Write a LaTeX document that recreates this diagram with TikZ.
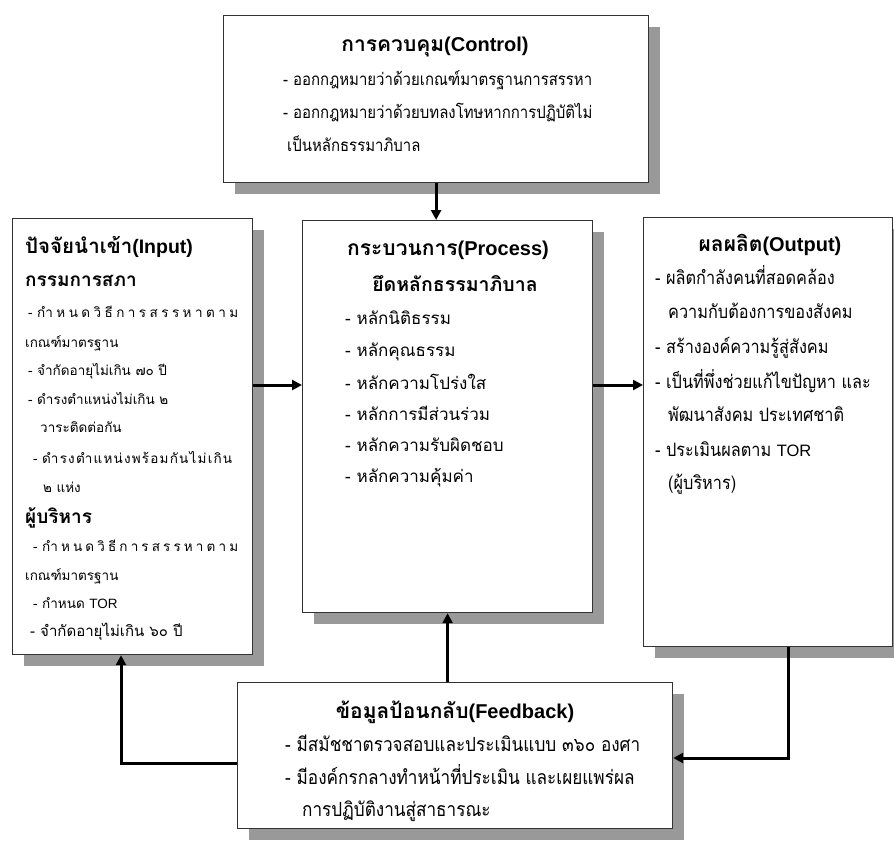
\documentclass[tikz,border=0pt]{standalone}
\usepackage{fontspec}
\setmainfont{Loma}[Script=Thai]
\newfontfamily\thn{Loma}[Script=Thai, FakeStretch=0.88]
\newfontfamily\lat{Liberation Sans}
\newcommand{\distline}[2]{\hbox to #1{#2}}
\usetikzlibrary{arrows.meta,shadows}
\begin{document}
\begin{tikzpicture}[x=1pt,y=-1pt,
  box/.style={draw=black!80, line width=1.2pt, fill=white, rectangle, anchor=north west, inner sep=0pt,
    drop shadow={shadow xshift=11pt, shadow yshift=-11pt, fill=black!40, opacity=1}},
  arr/.style={line width=3pt, -{Triangle[length=10pt,width=10pt]}},
  txt/.style={inner sep=0pt, anchor=west, text height=12pt, text depth=2pt},
  ctxt/.style={txt, font=\thn\fontsize{17}{20}\selectfont},
  otxt/.style={txt, font=\thn\fontsize{18.5}{22}\selectfont},
  ftxt/.style={txt, font=\thn\fontsize{19.5}{23}\selectfont},
  ptxt/.style={txt, font=\fontsize{17}{20}\selectfont},
  itxt/.style={txt, font=\fontsize{13.5}{16}\selectfont},
  ttl/.style={inner sep=0pt, anchor=center, text height=14pt, text depth=2pt, font=\fontsize{21}{24}\selectfont\bfseries},
  sttl/.style={inner sep=0pt, anchor=west, text height=14pt, text depth=2pt, font=\fontsize{19}{22}\selectfont\bfseries}
]
\useasboundingbox (0,0) rectangle (894,857);
\clip (0,0) rectangle (894,857);
\fill[white] (0,0) rectangle (894,857);

% boxes
\node[box, minimum width=425pt, minimum height=167pt] (ctrl) at (223,15) {};
\node[box, minimum width=240pt, minimum height=436pt] (inp) at (12,218) {};
\node[box, minimum width=290pt, minimum height=392pt] (proc) at (302,220) {};
\node[box, minimum width=249pt, minimum height=429pt] (out) at (643,217) {};
\node[box, minimum width=435pt, minimum height=146pt] (fb) at (237,682) {};

% control text
\node[ttl] (c0) at (435,45) {การควบคุม{\lat\fontsize{20}{24}\selectfont (Control)}};
\node[ctxt] (c1) at (283,80) {- ออกกฎหมายว่าด้วยเกณฑ์มาตรฐานการสรรหา};
\node[ctxt] (c2) at (283,113) {- ออกกฎหมายว่าด้วยบทลงโทษหากการปฏิบัติไม่};
\node[ctxt] (c3) at (287,146) {เป็นหลักธรรมาภิบาล};

% input text
\node[sttl, font=\fontsize{20.5}{24}\selectfont\bfseries] (i0) at (25,247) {ปัจจัยนำเข้า{\lat\fontsize{19.5}{24}\selectfont (Input)}};
\node[sttl] (i1) at (25,280) {กรรมการสภา};
\node[itxt] (i2) at (28,312) {\distline{210pt}{-\ กำ\hfil ห\hfil น\hfil ด\hfil วิ\hfil ธี\hfil ก\hfil า\hfil ร\hfil ส\hfil ร\hfil ร\hfil ห\hfil า\hfil ต\hfil า\hfil ม}};
\node[itxt] (i3) at (25,342) {เกณฑ์มาตรฐาน};
\node[itxt] (i4) at (28,370) {- จำกัดอายุไม่เกิน ๗๐ ปี};
\node[itxt] (i5) at (28,399) {- ดำรงตำแหน่งไม่เกิน ๒};
\node[itxt] (i6) at (40,427) {วาระติดต่อกัน};
\node[itxt] (i7) at (33,458) {\distline{199pt}{-\ ดำ\hfil ร\hfil ง\hfil ตำ\hfil แ\hfil ห\hfil น่\hfil ง\hfil พ\hfil ร้\hfil อ\hfil ม\hfil กั\hfil น\hfil ไ\hfil ม่\hfil เ\hfil กิ\hfil น}};
\node[itxt] (i8) at (43,487) {๒ แห่ง};
\node[sttl] (i9) at (25,517) {ผู้บริหาร};
\node[itxt] (i10) at (33,546) {\distline{205pt}{-\ กำ\hfil ห\hfil น\hfil ด\hfil วิ\hfil ธี\hfil ก\hfil า\hfil ร\hfil ส\hfil ร\hfil ร\hfil ห\hfil า\hfil ต\hfil า\hfil ม}};
\node[itxt] (i11) at (25,575) {เกณฑ์มาตรฐาน};
\node[itxt] (i12) at (33,603) {- กำหนด {\lat TOR}};
\node[txt, font=\fontsize{15}{18}\selectfont] (i13) at (30,631) {- จำกัดอายุไม่เกิน ๖๐ ปี};

% process text
\node[ttl] (p0) at (448,249) {กระบวนการ{\lat\fontsize{20}{24}\selectfont (Process)}};
\node[ttl, font=\fontsize{19.5}{23}\selectfont\bfseries] (p1) at (455,285) {ยึดหลักธรรมาภิบาล};
\node[ptxt] (p2) at (345,319) {- หลักนิติธรรม};
\node[ptxt] (p3) at (345,351) {- หลักคุณธรรม};
\node[ptxt] (p4) at (345,384) {- หลักความโปร่งใส};
\node[ptxt] (p5) at (345,415) {- หลักการมีส่วนร่วม};
\node[ptxt] (p6) at (345,446) {- หลักความรับผิดชอบ};
\node[ptxt] (p7) at (345,477) {- หลักความคุ้มค่า};

% output text
\node[ttl] (o0) at (770,245) {ผลผลิต{\lat\fontsize{20}{24}\selectfont (Output)}};
\node[otxt] (o1) at (655,279) {- ผลิตกำลังคนที่สอดคล้อง};
\node[otxt] (o2) at (668,313) {ความกับต้องการของสังคม};
\node[otxt] (o3) at (655,348) {- สร้างองค์ความรู้สู่สังคม};
\node[otxt] (o4) at (655,383) {- เป็นที่พึ่งช่วยแก้ไขปัญหา และ};
\node[otxt] (o5) at (668,416) {พัฒนาสังคม ประเทศชาติ};
\node[otxt] (o6) at (655,451) {- ประเมินผลตาม {\lat\fontsize{16.5}{20}\selectfont TOR}};
\node[otxt] (o7) at (668,484) {(ผู้บริหาร)};

% feedback text
\node[ttl] (f0) at (455,712) {ข้อมูลป้อนกลับ{\lat\fontsize{20}{24}\selectfont (Feedback)}};
\node[ftxt] (f1) at (285,746) {- มีสมัชชาตรวจสอบและประเมินแบบ ๓๖๐ องศา};
\node[ftxt] (f2) at (285,779) {- มีองค์กรกลางทำหน้าที่ประเมิน และเผยแพร่ผล};
\node[ftxt] (f3) at (302,811) {การปฏิบัติงานสู่สาธารณะ};

% connectors
\coordinate (yio) at (0,385);
\coordinate (fbin) at (121,763);
\coordinate (outfb) at (788,758);
\draw[arr] (ctrl.south) -- (ctrl.south |- proc.north);
\draw[arr] (inp.east |- yio) -- (proc.west |- yio);
\draw[arr] (proc.east |- yio) -- (out.west |- yio);
\draw[arr] (fb.north -| proc.south) -- (proc.south);
\draw[arr] (fb.west |- fbin) -| (inp.south -| fbin);
\draw[arr] (out.south -| outfb) |- (fb.east |- outfb);
\end{tikzpicture}
\end{document}
